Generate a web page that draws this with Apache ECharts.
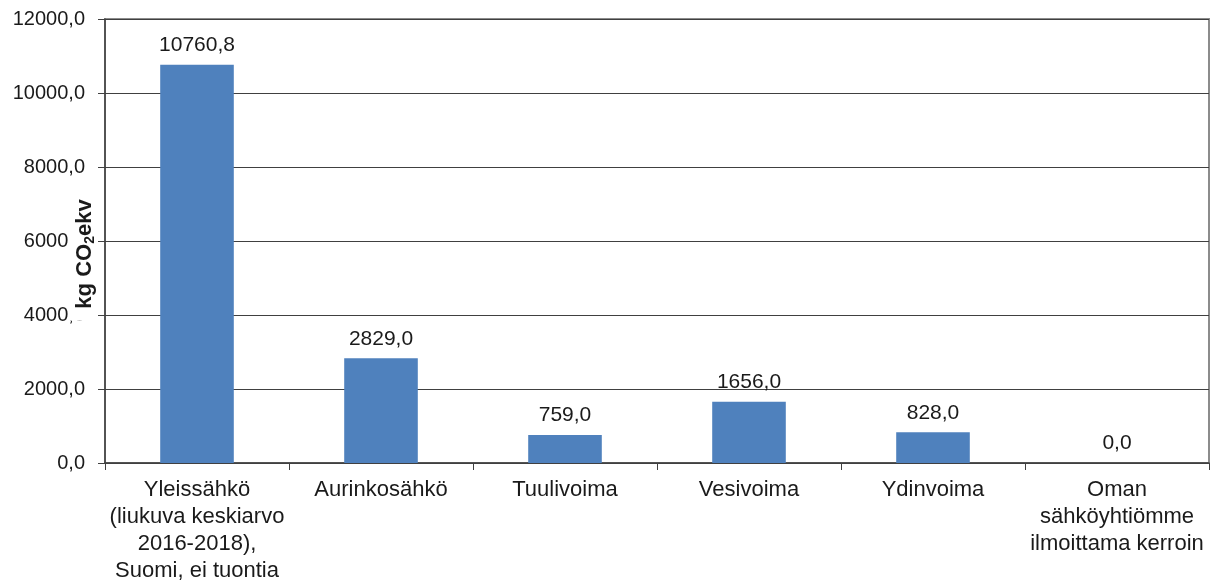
<!DOCTYPE html>
<html>
<head>
<meta charset="utf-8">
<script src="https://cdn.jsdelivr.net/npm/echarts@6/dist/echarts.min.js"></script>
<style>
  html, body { margin: 0; padding: 0; background: #fff; }
  #chart { width: 1219px; height: 583px; }
</style>
</head>
<body>
<div id="chart"></div>
<script>
// Emission sources (category labels, wrapped as shown under the axis)
const categories = [
  'Yleissähkö\n(liukuva keskiarvo\n2016-2018),\nSuomi, ei tuontia',
  'Aurinkosähkö',
  'Tuulivoima',
  'Vesivoima',
  'Ydinvoima',
  'Oman\nsähköyhtiömme\nilmoittama kerroin'
];
// Emissions, kg CO2-equivalent
const emissions = [10760.8, 2829.0, 759.0, 1656.0, 828.0, 0.0];
// Value axis range
const yMin = 0;
const yMax = 12000;
const yStep = 2000;

const fmt = v => Number(v).toFixed(1).replace('.', ',');
const FONT = '"Liberation Sans", Arial, sans-serif';

const chart = echarts.init(document.getElementById('chart'), null, { renderer: 'canvas' });
chart.setOption({
  animation: false,
  backgroundColor: '#ffffff',
  grid: {
    left: 105, right: 10, top: 19, bottom: 120,
    containLabel: false,
    outerBoundsMode: 'none',
    show: true, borderColor: '#8c8c8c', borderWidth: 2
  },
  // Value-axis title, set on a white box that sits over the tick labels
  graphic: [{
    type: 'text',
    x: 83, y: 259,
    rotation: Math.PI / 2,
    z: 100,
    style: {
      text: '{a|kg CO}{b|2}{a|ekv}',
      align: 'center',
      verticalAlign: 'middle',
      backgroundColor: '#ffffff',
      padding: [5, 2, 1, 12],
      rich: {
        a: { fontFamily: FONT, fontSize: 22, fontWeight: 'bold', fill: '#1a1a1a' },
        b: { fontFamily: FONT, fontSize: 14, fontWeight: 'bold', fill: '#1a1a1a', padding: [10, 0, 0, 0] }
      }
    }
  }],
  xAxis: {
    type: 'category',
    data: categories,
    axisLine: { lineStyle: { color: '#404040', width: 1.5 } },
    axisTick: { show: true, length: 7, alignWithLabel: false, lineStyle: { color: '#404040' } },
    axisLabel: {
      interval: 0, margin: 13, color: '#1a1a1a', hideOverlap: false,
      fontFamily: FONT, fontSize: 22, lineHeight: 27, align: 'center'
    }
  },
  yAxis: {
    type: 'value',
    min: yMin, max: yMax, interval: yStep,
    axisLine: { show: true, lineStyle: { color: '#404040', width: 1.5 } },
    axisTick: { show: true, length: 7, lineStyle: { color: '#404040' } },
    axisLabel: {
      formatter: fmt, margin: 20, color: '#1a1a1a',
      fontFamily: FONT, fontSize: 20
    },
    splitLine: { show: true, lineStyle: { color: '#404040', width: 1 } }
  },
  series: [{
    type: 'bar',
    data: emissions,
    barWidth: '40%',
    itemStyle: { color: '#4f81bd' },
    label: {
      show: true, position: 'top', distance: 9,
      formatter: p => fmt(p.value),
      color: '#1a1a1a', fontFamily: FONT, fontSize: 21
    }
  }]
});
</script>
</body>
</html>
